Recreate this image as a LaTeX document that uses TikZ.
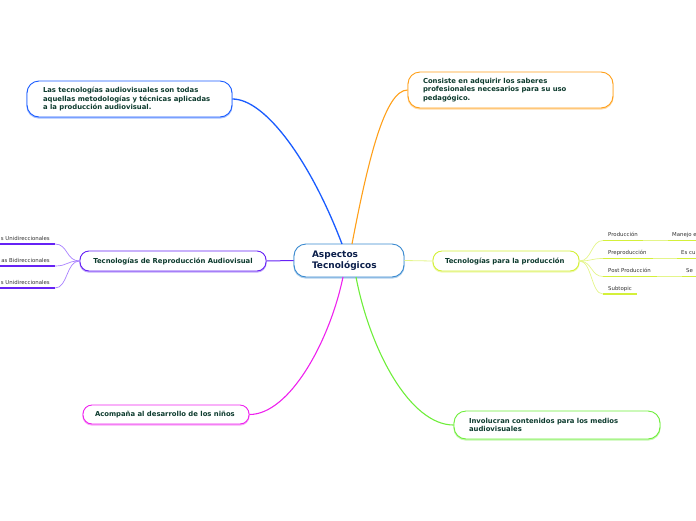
\documentclass[tikz,border=0pt]{standalone}
\usepackage{fontspec}
\setmainfont{DejaVu Sans}
\begin{document}
\begin{tikzpicture}[x=1pt,y=-1pt,
  topic/.style={draw=#1, fill=white, line width=0.9pt, rounded corners=12pt, inner sep=0pt,
     font=\fontsize{6.85}{8.8}\selectfont\bfseries, text=tcol,
     preaction={draw=#1!40, line width=1.4pt, transform canvas={yshift=-0.9pt}}},
  sub/.style={font=\fontsize{5.4}{6.5}\selectfont, text=sgray, inner sep=0pt},
]
\definecolor{tcol}{HTML}{0D3B2E}
\definecolor{ccol}{HTML}{0B1E4A}
\definecolor{sgray}{HTML}{333333}
\definecolor{cblue}{HTML}{1A5CFF}
\definecolor{corange}{HTML}{FFA01A}
\definecolor{cpurple}{HTML}{6622F5}
\definecolor{cpurpleL}{HTML}{A880FF}
\definecolor{cyg}{HTML}{D4F03A}
\definecolor{cygL}{HTML}{E4F58A}
\definecolor{cgreen}{HTML}{6EEE3A}
\definecolor{cmag}{HTML}{EE22EE}
\definecolor{ccen}{HTML}{3A8AD0}
\useasboundingbox (0,0) rectangle (696,520);
\clip (0,0) rectangle (696,520);

% central node
\node[topic=ccen, minimum width=110pt, minimum height=33pt, text=ccol,
      font=\fontsize{9}{11}\selectfont\bfseries] (C) at (349,260.5)
  {\parbox{74pt}{Aspectos\\Tecnológicos}};

% main topics
\node[topic=cblue, minimum width=205pt, minimum height=36pt] (TL) at (129.5,99)
  {\parbox{173pt}{Las tecnologías audiovisuales son todas\\aquellas metodologías y técnicas aplicadas\\a la producción audiovisual.}};
\node[topic=corange, minimum width=205pt, minimum height=36pt] (TR) at (510.5,90)
  {\parbox{175pt}{Consiste en adquirir los saberes\\profesionales necesarios para su uso\\pedagógico.}};
\node[topic=cpurple, minimum width=186pt, minimum height=20pt, rounded corners=9pt] (L) at (173,261)
  {Tecnologías de Reproducción Audiovisual};
\node[topic=cyg, minimum width=146pt, minimum height=20pt, rounded corners=9pt] (R) at (506,261)
  {\parbox{122pt}{Tecnologías para la producción}};
\node[topic=cgreen, minimum width=206pt, minimum height=28pt] (BR) at (557,425)
  {\parbox{176pt}{Involucran contenidos para los medios\\audiovisuales}};
\node[topic=cmag, minimum width=166pt, minimum height=19pt, rounded corners=9pt] (BL) at (166,414.5)
  {\parbox{142pt}{Acompaña al desarrollo de los niños}};

% connectors from centre
\coordinate (cb) at (342,244);
\coordinate (co) at (352,244);
\coordinate (cm) at (343,277);
\coordinate (cg) at (356,277);
\draw[cblue, line width=1.3pt] (cb) .. controls (310,160) and (265,99) .. (TL.east);
\draw[corange, line width=1.1pt] (co) .. controls (368,160) and (385,90) .. (TR.west);
\draw[cmag, line width=1.1pt] (cm) .. controls (330,340) and (290,414.5) .. (BL.east);
\draw[cgreen, line width=1.1pt] (cg) .. controls (370,350) and (410,425) .. (BR.west);
\draw[cpurple, line width=1pt] (C.west) -- (L.east);
\draw[cygL, line width=0.8pt] (C.east) -- (R.west);

% left subtopics
\foreach \n/\y/\t in {l1/244/s Unidireccionales, l2/266/as Bidireccionales, l3/288/s Unidireccionales}{
  \coordinate (\n e) at (55,\y);
  \coordinate (\n s) at (0,\y);
  \draw[cpurple, line width=1.3pt] (\n s) -- (\n e);
  \node[sub, anchor=base east] (\n) at (50,\y-4) {\t};
  \draw[cpurpleL, line width=0.7pt] (L.west) .. controls (66,261) and (68,\y) .. (\n e);
}

% right subtopics
\foreach \n/\y/\t/\xe in {r1/240.5/Producción/643, r2/258.5/Preproducción/653, r3/276.5/Post Producción/657, r4/294/Subtopic/637}{
  \coordinate (\n s) at (603,\y);
  \coordinate (\n e) at (\xe,\y);
  \draw[cyg, line width=1.3pt] (\n s) -- (\n e);
  \node[sub, anchor=base west] (\n) at (608,\y-4) {\t};
  \draw[cygL, line width=0.7pt] (R.east) .. controls (592,261) and (591,\y) .. (\n s);
}
% second level (cut at edge)
\foreach \n/\y/\t/\xs/\src in {q1/240.5/Manejo e/668/r1e, q2/258.5/Es cu/677/r2e, q3/276.5/Se/682/r3e}{
  \coordinate (\n s) at (\xs,\y);
  \coordinate (\n e) at (700,\y);
  \draw[cyg, line width=1.3pt] (\n s) -- (\n e);
  \draw[cygL, line width=0.7pt] (\src) -- (\n s);
  \node[sub, anchor=base west] (\n) at (\xs+4,\y-4) {\t};
}
\end{tikzpicture}
\end{document}
